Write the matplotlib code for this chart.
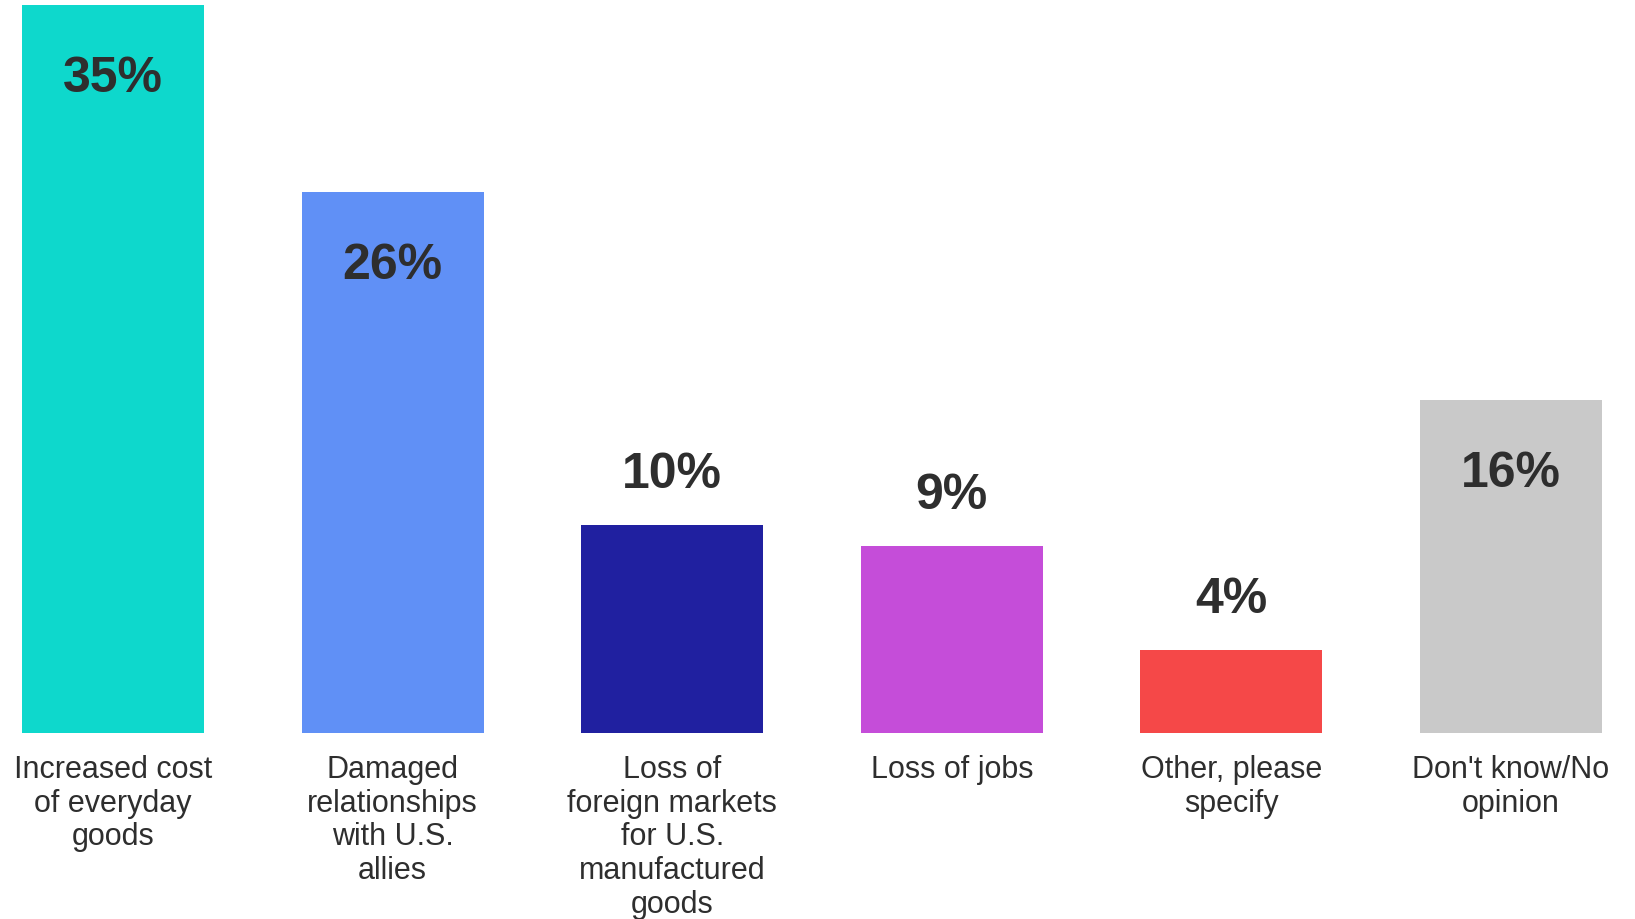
import matplotlib.pyplot as plt

categories = [
    "Increased cost\nof everyday\ngoods",
    "Damaged\nrelationships\nwith U.S.\nallies",
    "Loss of\nforeign markets\nfor U.S.\nmanufactured\ngoods",
    "Loss of jobs",
    "Other, please\nspecify",
    "Don't know/No\nopinion",
]
values = [35, 26, 10, 9, 4, 16]
colors = ["#0ed8cc", "#6090f6", "#2020a0", "#c54dd9", "#f54848", "#c9c9c9"]

text_color = "#2e2e2e"

fig = plt.figure(figsize=(16.35, 9.2), dpi=100)
ax = fig.add_axes([0, 186 / 920, 1, 728 / 920])

x = range(len(values))
ax.bar(x, values, width=0.651, color=colors)

# pixel spacing between bar centres is ~279.6, first centre at ~113 px
ax.set_xlim(-113 / 279.6, (1635 - 113) / 279.6)
ax.set_ylim(0, 35)

for i, v in enumerate(values):
    if v >= 15:
        y = v - 3.5
    else:
        y = v + 2.45
    ax.text(i, y, f"{v}%", ha="center", va="center", fontsize=36,
            fontweight="bold", color=text_color, family="Liberation Sans",
            clip_on=False)

ax.set_xticks(list(x))
ax.set_xticklabels(categories, fontsize=22, color=text_color,
                   family="Liberation Sans", linespacing=1.16, va="top")
ax.tick_params(axis="x", length=0, pad=15)
ax.set_yticks([])
for s in ax.spines.values():
    s.set_visible(False)

fig.savefig("out.png", dpi=100)
